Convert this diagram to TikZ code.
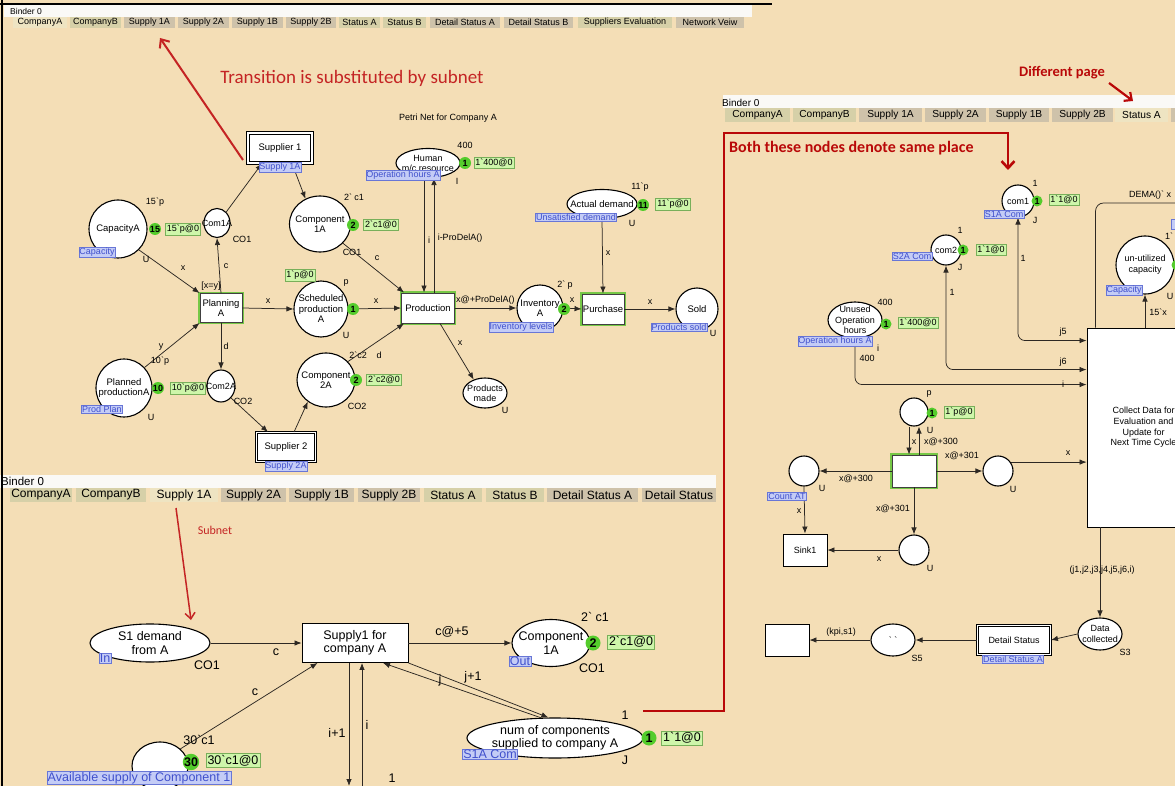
\documentclass[tikz,border=0pt]{standalone}
\usepackage{fontspec}
\setmainfont{Liberation Sans}
\newfontfamily\annotfont{Carlito}
\usetikzlibrary{arrows.meta,shapes.geometric}
\definecolor{bgtan}{RGB}{244,222,182}
\definecolor{tabgray}{RGB}{206,194,170}
\definecolor{tabsel}{RGB}{238,228,194}
\definecolor{tabgrn}{RGB}{214,208,168}
\definecolor{hdrwhite}{RGB}{250,249,246}
\definecolor{annred}{RGB}{196,36,36}
\definecolor{boxred}{RGB}{185,8,8}
\definecolor{tokgreen}{RGB}{84,204,44}
\definecolor{mkgreen}{RGB}{206,246,170}
\definecolor{mkedge}{RGB}{120,175,90}
\definecolor{tagfill}{RGB}{196,204,246}
\definecolor{tagedge}{RGB}{104,118,214}
\definecolor{tagtext}{RGB}{64,80,204}
\definecolor{glow}{RGB}{118,200,70}
\definecolor{arc}{RGB}{45,40,35}
\newcommand\bqt{\textasciigrave}
\newcommand\fsA{\fontsize{9.5}{10.5}\selectfont}
\newcommand\fsS{\fontsize{9}{10}\selectfont}
\newcommand\fsR{\fontsize{9}{10.7}\selectfont}
\newcommand\fsB{\fontsize{12.5}{13.5}\selectfont}
\newcommand\fsBs{\fontsize{12.5}{13.5}\selectfont}
\newcommand\shp[8][pl]{%
  \node[#1,minimum width=#5pt,minimum height=#6pt] (#2) at (#3,#4) {};
  \node[align=center,inner sep=0pt,font=#7] at (#2) {#8};}
\begin{document}
\begin{tikzpicture}[x=1pt,y=-1pt,
  every node/.style={font=\fsA,text=black},
  pl/.style={ellipse,draw=black,fill=white,line width=1.1pt,inner sep=0pt},
  tr/.style={rectangle,draw=black,fill=white,line width=0.9pt,inner sep=0pt},
  gtr/.style={tr,draw=black!75,preaction={draw=glow,line width=3.2pt}},
  subt/.style={tr,double=white,double distance=1.8pt,line width=0.9pt},
  tok/.style={circle,fill=tokgreen,inner sep=0pt,minimum size=12pt,font=\fsS\bfseries},
  mk/.style={rectangle,fill=mkgreen,draw=mkedge,line width=0.5pt,inner sep=1.6pt,font=\fsS},
  tag/.style={rectangle,fill=tagfill,draw=tagedge,line width=0.5pt,inner sep=0.7pt,text=tagtext,font=\fsS},
  arr/.style={draw=arc,line width=0.75pt,-{Latex[length=7pt,width=5.5pt]}},
  arrb/.style={draw=arc,line width=0.75pt,{Latex[length=7pt,width=5.5pt]}-{Latex[length=7pt,width=5.5pt]}},
  lab/.style={inner sep=0pt,font=\fsS},
  labB/.style={inner sep=0pt,font=\fsBs},
  labR/.style={inner sep=0pt,font=\fsR},
  tabst/.style={rectangle,inner sep=0pt},
  redarr/.style={line width=2pt,-{Straight Barb[length=7pt,width=12pt]}}
]
\useasboundingbox (0,0) rectangle (1175,786);
\clip (0,0) rectangle (1175,786);
\fill[bgtan] (0,0) rectangle (1175,786);

% ================= headers =================
\fill[hdrwhite] (4,5) rectangle (752,17);
\node[anchor=west,inner sep=0pt,font=\fontsize{8.5}{9}\selectfont] (bind1) at (10,11.5) {Binder 0};
\foreach \tA/\tB/\tL/\tF in {13/67/CompanyA/tabsel,70/121/CompanyB/tabgrn,124/175/Supply 1A/tabgray,178/229/Supply 2A/tabgray,232/283/Supply 1B/tabgray,286/336/Supply 2B/tabgray,339/380/Status A/tabgrn,383/426/Status B/tabgrn,430/500/Detail Status A/tabgray,504/573/Detail Status B/tabgray,578/672/Suppliers Evaluation/tabgrn,676/744/Network Veiw/tabgray}{
  \pgfmathsetmacro\tC{(\tA+\tB)/2}\pgfmathsetmacro\tW{\tB-\tA}
  \node[tabst,fill=\tF,minimum width=\tW pt,minimum height=11pt,font=\fontsize{9}{9.5}\selectfont] at (\tC,22.5) {\tL};}

\fill[hdrwhite] (0,475) rectangle (716,488);
\node[anchor=west,inner sep=0pt,font=\fontsize{11.5}{12}\selectfont] (bind2) at (1,481.5) {Binder 0};
\foreach \tA/\tB/\tL/\tF in {10/72/CompanyA/tabgrn,76/146/CompanyB/tabgrn,150/218/Supply 1A/tabsel,221/286/Supply 2A/tabgray,289/354/Supply 1B/tabgray,358/420/Supply 2B/tabgray,424/482/Status A/tabgrn,486/544/Status B/tabgrn,547/638/Detail Status A/tabgray,642/716/Detail Status/tabgray}{
  \pgfmathsetmacro\tC{(\tA+\tB)/2}\pgfmathsetmacro\tW{\tB-\tA}
  \node[tabst,fill=\tF,minimum width=\tW pt,minimum height=14pt,font=\fontsize{12}{13}\selectfont] at (\tC,495) {\tL};}

\fill[hdrwhite] (723,95) rectangle (1175,108);
\node[anchor=west,inner sep=0pt,font=\fontsize{10}{11}\selectfont] (bind3) at (722,102.5) {Binder 0};
\foreach \tA/\tB/\tL/\tF in {725/790/CompanyA/tabgrn,793/856/CompanyB/tabgrn,859/922/Supply 1A/tabgray,925/986/Supply 2A/tabgray,989/1049/Supply 1B/tabgray,1052/1113/Supply 2B/tabgray,1115/1168/Status A/tabsel}{
  \pgfmathsetmacro\tC{(\tA+\tB)/2}\pgfmathsetmacro\tW{\tB-\tA}
  \node[tabst,fill=\tF,minimum width=\tW pt,minimum height=14pt,font=\fontsize{10.2}{11}\selectfont] at (\tC,115) {\tL};}
\fill[tabgray] (1171,108) rectangle (1180,122);

% frame
\draw[line width=1.6pt] (0,4) -- (772,4);
\draw[line width=2pt] (2,0) -- (2,786);

% ================= panel 1: Company A =================
\node[font=\fsS,inner sep=0pt] (title1) at (448,118) {Petri Net for Company A};
\shp[subt]{sup1}{280}{148}{64}{30}{\fsA}{Supplier 1}
\shp{cap}{118}{229}{58}{58}{\fsA}{CapacityA}
\shp{ca}{217}{223}{26}{29}{\fsS}{Com1A}
\shp[gtr]{plan}{221}{308}{42}{29}{\fsA}{Planning\\A}
\shp{pp}{124}{388}{56}{58}{\fsA}{Planned\\productionA}
\shp{cb}{221}{386}{28}{32}{\fsS}{Com2A}
\shp[subt]{sup2}{286}{447}{59}{29}{\fsA}{Supplier 2}
\shp{comp1}{320}{224}{61}{56}{\fsA}{Component\\1A}
\shp{sched}{321}{309}{54}{56}{\fsA}{Scheduled\\production\\A}
\shp{comp2}{326}{380}{58}{54}{\fsA}{Component\\2A}
\shp[gtr]{prod}{428}{308}{53}{30}{\fsA}{Production}
\shp{hum}{428}{163}{64}{29}{\fsS}{Human\\m/c resource}
\shp{pm}{485}{393}{44}{30}{\fsS}{Products\\made}
\shp{ad}{602}{204}{70}{29}{\fsA}{Actual demand}
\shp{inv}{540}{308}{46}{46}{\fsA}{Inventory\\A}
\shp[gtr]{purch}{603}{309}{42}{30}{\fsA}{Purchase}
\shp{sold}{697}{309}{42}{42}{\fsA}{Sold}

\draw[arr] (cap.-45) -- (plan.north west);
\draw[arr] (pp.45) -- (plan.south west);
\draw[arr] (plan.north) -- (ca.south);
\draw[arr] (plan.south) -- (cb.north);
\draw[arr] (plan.east) -- (sched.west);
\draw[arr] (sched.east) -- (prod.west);
\draw[arr] (comp1.-40) -- ([xshift=3pt]prod.north west);
\draw[arr] (comp2.40) -- ([xshift=3pt]prod.south west);
\draw[arr] ([xshift=-4pt]hum.south) -- ([xshift=-4pt]prod.north);
\draw[arr] ([xshift=6pt]prod.north) -- ([xshift=6pt]hum.south);
\draw[arr] ([xshift=12pt]prod.south) -- (pm.130);
\draw[arr] (prod.east) -- (inv.west);
\draw[arr] (inv.east) -- (purch.west);
\draw[arr] (ad.south) -- (purch.north);
\draw[arr] (purch.east) -- (sold.west);
\draw[arr] (ca.50) -- ([xshift=-18pt]sup1.south);
\draw[arr] ([xshift=12pt]sup1.south) -- (comp1.120);
\draw[arr] (cb.-50) -- ([xshift=-18pt]sup2.north);
\draw[arr] ([xshift=8pt]sup2.north) -- (comp2.-130);

\node[tag] (tg1) at (280,167) {Supply 1A};
\node[tag] (tg2) at (286,466) {Supply 2A};
\node[tag] (tg3) at (97,252.5) {Capacity};
\node[tag] (tg4) at (102,409) {Prod Plan};
\node[tag] (tg5) at (403,175.5) {Operation hours A};
\node[tag] (tg6) at (576,217.5) {Unsatisfied demand};
\node[tag] (tg7) at (521,327) {Inventory levels};
\node[tag] (tg8) at (679,327) {Products sold};

\node[tok] (k1) at (155,229) {15};
\node[mk] (m1) at (183,229.5) {15\bqt p@0};
\node[tok] (k2) at (158,388) {10};
\node[mk] (m2) at (188,388) {10\bqt p@0};
\node[tok] (k3) at (353,225) {2};
\node[mk] (m3) at (381,225) {2\bqt c1@0};
\node[mk] (m4) at (300,275.5) {1\bqt p@0};
\node[tok] (k4) at (353,309) {1};
\node[tok] (k5) at (465,163) {1};
\node[mk] (m5) at (494,163) {1\bqt 400@0};
\node[tok] (k6) at (356,380) {2};
\node[mk] (m6) at (384,380) {2\bqt c2@0};
\node[tok] (k7) at (643,205) {11};
\node[mk] (m7) at (673,204) {11\bqt p@0};
\node[tok] (k8) at (564,309) {2};

\node[lab] at (155,202) {15\bqt p};
\node[lab] at (183,268) {x};
\node[lab] at (211,286) {[x=y]};
\node[lab] at (226,266) {c};
\node[lab] at (226,346) {d};
\node[lab] at (268,301) {x};
\node[lab] at (161,347) {y};
\node[lab] at (160,361) {10\bqt p};
\node[lab] at (151,417) {U};
\node[lab] at (146,259) {U};
\node[lab] at (242,239) {CO1};
\node[lab] at (243,401) {CO2};
\node[lab] at (354,197) {2\bqt\ c1};
\node[lab] at (352,252) {CO1};
\node[lab] at (377,258) {c};
\node[lab] at (346,283) {p};
\node[lab] at (346,335) {U};
\node[lab] at (376,301) {x};
\node[lab] at (465,145) {400};
\node[lab] at (457,181) {I};
\node[lab] at (429,240) {i};
\node[lab] at (460,238) {i-ProDelA()};
\node[lab,anchor=west] at (456,300) {x@+ProDelA()};
\node[lab] at (358,355) {2\bqt c2};
\node[lab] at (379,355) {d};
\node[lab] at (357,406) {CO2};
\node[lab] at (460,343) {x};
\node[lab] at (505,410) {U};
\node[lab] at (640,187) {11\bqt p};
\node[lab] at (632,223) {U};
\node[lab] at (608,253) {x};
\node[lab] at (565,285) {2\bqt\ p};
\node[lab] at (572,300) {x};
\node[lab] at (650,302) {x};
\node[lab] at (713,333) {U};

% ================= panel 2: Supply 1A =================
\shp{sd}{150}{643}{120}{38}{\fsB}{S1 demand\\from A}
\shp[tr]{sf}{355}{643}{106}{39}{\fsB}{Supply1 for\\company A}
\shp{av}{160}{766}{56}{48}{\fsB}{}
\shp{cc}{551}{643}{78}{47}{\fsB}{Component\\1A}
\shp{num}{555}{738}{176}{40}{\fsB}{num of components\\supplied to company A}
\coordinate (dn) at (349,786);
\coordinate (upc) at (362,790);

\draw[arr] (sd.east) -- (sf.west);
\draw[arr] (av.40) -- ([xshift=16pt]sf.south west);
\draw[arr] ([xshift=-6pt]sf.south) -- (dn);
\draw[arr] (upc) -- ([xshift=7pt]sf.south);
\draw[arr] (sf.east) -- (cc.west);
\draw[arr] (sf.south east) -- (num.108);
\draw[arr] (num.125) -- ([xshift=28pt]sf.south);

\node[tag,font=\fsBs] (tg9) at (105,658) {In};
\node[tag,font=\fsBs] (tg10) at (139,778) {Available supply of Component 1};
\node[tag,font=\fsBs] (tg11) at (520,661.5) {Out};
\node[tag,font=\fsBs] (tg12) at (490,754) {S1A Com};
\node[tok,minimum size=16pt,font=\fsBs\bfseries] (k9) at (191,762) {30};
\node[mk,font=\fsBs] (m9) at (233,760.5) {30\bqt c1@0};
\node[tok,minimum size=15pt,font=\fsBs\bfseries] (k10) at (593,643) {2};
\node[mk,font=\fsBs] (m10) at (631,642) {2\bqt c1@0};
\node[tok,minimum size=15pt,font=\fsBs\bfseries] (k11) at (649,738) {1};
\node[mk,font=\fsBs] (m11) at (682,738) {1\bqt 1@0};

\node[labB] at (207,665) {CO1};
\node[labB] at (276,652) {c};
\node[labB] at (255,692) {c};
\node[labB] at (199,740) {30\bqt c1};
\node[labB] at (337,733) {i+1};
\node[labB] at (367,725) {i};
\node[labB] at (392,778) {1};
\node[labB] at (452,632) {c@+5};
\node[labB] at (595,617) {2\bqt\ c1};
\node[labB] at (592,668) {CO1};
\node[labB] at (440,680) {j};
\node[labB] at (473,677) {j+1};
\node[labB] at (625,715) {1};
\node[labB] at (625,760) {J};

% ================= right panel: Status A =================
\shp{com1}{1018}{201}{32}{32}{\fsR}{com1}
\shp{com2}{946}{250}{30}{30}{\fsR}{com2}
\shp{unused}{855}{320}{54}{36}{\fsR}{Unused\\Operation\\hours}
\shp{pq}{914}{412}{28}{28}{\fsR}{}
\shp[gtr]{tq}{914}{471}{44}{32}{\fsR}{}
\shp{lc}{804}{471}{30}{30}{\fsR}{}
\shp[tr]{sink}{805}{550}{44}{32}{\fsR}{Sink1}
\shp{rc}{998}{471}{30}{30}{\fsR}{}
\shp{bc}{914}{550}{30}{30}{\fsR}{}
\shp[tr]{collect}{1143.5}{427.5}{113}{199}{\fsR}{Collect Data for\\Evaluation and\\Update for\\Next Time Cycle}
\shp{util}{1145}{265}{58}{58}{\fsR}{un-utilized\\capacity}
\shp{data}{1100}{634}{44}{32}{\fsR}{Data\\collected}
\shp[subt]{detail}{1014}{640}{73}{29}{\fsR}{Detail Status}
\shp{s5}{893}{640}{44}{32}{\fsR}{\bqt\ \bqt}
\shp[tr]{ebox}{787}{640}{44}{32}{\fsR}{}
\coordinate (demaEnd) at (1185,203);

\draw[arrb,rounded corners=7pt] (com1.south) |- ([yshift=-13pt]collect.north west);
\draw[arrb,rounded corners=7pt] (com2.south) |- ([yshift=-42pt]collect.north west);
\draw[arrb,rounded corners=7pt] (unused.south) |- ([yshift=-57pt]collect.north west);
\draw[arc,line width=0.75pt,rounded corners=8pt] ([xshift=9pt]collect.north west) |- (demaEnd);
\draw[arr] (util.south |- collect.north) -- (util.south);
\draw[arr] ([xshift=-5pt]pq.south) -- ([xshift=-5pt]tq.north);
\draw[arr] ([xshift=5pt]tq.north) -- ([xshift=5pt]pq.south);
\draw[arr] (tq.west) -- (lc.east);
\draw[arr] (tq.east) -- (rc.west);
\draw[arr] (tq.south) -- (bc.north);
\draw[arr] (bc.west) -- (sink.east);
\draw[arr] (lc.south) -- (sink.north);
\draw[arr] (rc.35) -- (rc.35 -| collect.west);
\draw[arr] (data.north |- collect.south) -- (data.north);
\draw[arr] (data.west) -- (detail.east);
\draw[arr] (detail.west) -- (s5.east);
\draw[arr] (s5.west) -- (ebox.east);

\node[tag,font=\fsR] (tg13) at (1004,214.5) {S1A Com};
\node[tag,font=\fsR] (tg14) at (912,256.5) {S2A Com};
\node[tag,font=\fsR] (tg15) at (835,341) {Operation hours A};
\node[tag,font=\fsR] (tg16) at (787,496) {Count AT};
\node[tag,font=\fsR] (tg17) at (1124,290.5) {Capacity};
\node[tag,font=\fsR] (tg18) at (1013,659) {Detail Status A};
\fill[tagfill,draw=tagedge,line width=0.5pt] (1171,219) rectangle (1182,229);

\node[tok,minimum size=11pt,font=\fsR\bfseries] (k13) at (1037,201) {1};
\node[mk,font=\fsR] (m13) at (1064,200) {1\bqt 1@0};
\node[tok,minimum size=11pt,font=\fsR\bfseries] (k14) at (963,250) {1};
\node[mk,font=\fsR] (m14) at (991,249.5) {1\bqt 1@0};
\node[tok,minimum size=11pt,font=\fsR\bfseries] (k15) at (886,324) {1};
\node[mk,font=\fsR] (m15) at (918,323) {1\bqt 400@0};
\node[tok,minimum size=11pt,font=\fsR\bfseries] (k16) at (932,413) {1};
\node[mk,font=\fsR] (m16) at (959,412) {1\bqt p@0};
\node[tok,minimum size=11pt] (k17) at (1177,265) {};

\node[labR] at (1035,183) {1};
\node[labR] at (1035,220) {J};
\node[labR] at (1150,195) {DEMA()\bqt\ x};
\node[labR,anchor=west] at (1165,236) {1\bqt};
\node[labR] at (1023,258) {1};
\node[labR] at (1063,332) {j5};
\node[labR] at (960,230) {1};
\node[labR] at (960,267) {J};
\node[labR] at (952,292) {1};
\node[labR] at (1063,362) {j6};
\node[labR] at (885,302) {400};
\node[labR] at (878,348) {i};
\node[labR] at (867,358) {400};
\node[labR] at (1063,384) {i};
\node[labR] at (929,394) {p};
\node[labR] at (930,430) {U};
\node[labR] at (914,442) {x};
\node[labR] at (941,442) {x@+300};
\node[labR] at (856,479) {x@+300};
\node[labR] at (822,488) {U};
\node[labR] at (799,511) {x};
\node[labR] at (962,456) {x@+301};
\node[labR] at (1013,489) {U};
\node[labR] at (1068,453) {x};
\node[labR] at (893,509) {x@+301};
\node[labR] at (930,568) {U};
\node[labR] at (879,559) {x};
\node[labR] at (1102,570) {(j1,j2,j3,j4,j5,j6,i)};
\node[labR] at (841,632) {(kpi,s1)};
\node[labR] at (917,658) {S5};
\node[labR] at (1125,652) {S3};
\node[labR] at (1158,312) {15\bqt x};
\node[labR] at (1170,296) {U};

% ================= red annotations =================
\coordinate (a1s) at (243,160);
\coordinate (a1e) at (160,38);
\draw[annred,redarr] (a1s) -- (a1e);
\node[font=\annotfont\fontsize{19}{20}\selectfont,text=annred,inner sep=0pt] (t1) at (352,78) {Transition is substituted by subnet};
\node[font=\annotfont\fontsize{12}{13}\selectfont,text=annred,inner sep=0pt] (t2) at (215,530) {Subnet};
\coordinate (a2s) at (176,508);
\coordinate (a2e) at (191,620);
\draw[annred,line width=1.5pt,-{Straight Barb[length=6pt,width=10pt]}] (a2s) -- (a2e);
\node[font=\annotfont\bfseries\fontsize{16}{17}\selectfont,text=boxred,inner sep=0pt,anchor=west] (t3) at (729,148) {Both these nodes denote same place};
\coordinate (r0) at (643,711);
\coordinate (r1) at (724,711);
\coordinate (r2) at (724,133);
\coordinate (r3) at (1008,133);
\coordinate (r4) at (1008,170);
\draw[boxred,line width=2.6pt,-{Straight Barb[length=7pt,width=13pt]}] (r0) -- (r1) -- (r2) -- (r3) -- (r4);
\node[font=\annotfont\bfseries\fontsize{14.5}{15}\selectfont,text=boxred,inner sep=0pt] (t4) at (1062,73) {Different page};
\coordinate (a3s) at (1109,83);
\coordinate (a3e) at (1133,101);
\draw[boxred,line width=2.2pt,-{Straight Barb[length=6pt,width=11pt]}] (a3s) -- (a3e);
\end{tikzpicture}
\end{document}
